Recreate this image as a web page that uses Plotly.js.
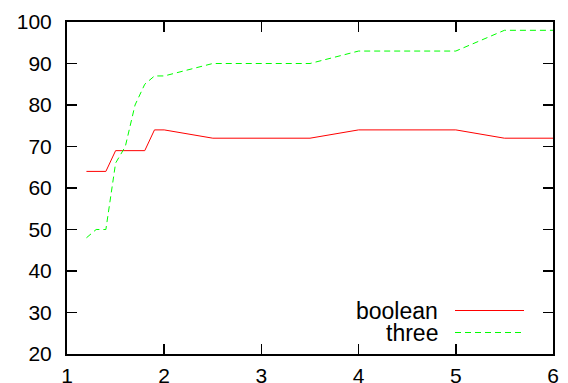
<!DOCTYPE html>
<html>
<head>
<meta charset="utf-8">
<script src="https://cdn.plot.ly/plotly-3.0.1.min.js"></script>
<style>html,body{margin:0;padding:0;background:#fff;}#chart{width:568px;height:383px;}</style>
</head>
<body>
<div id="chart"></div>
<script>
const xBoolean = [1.2, 1.4, 1.5, 1.8, 1.9, 2.0, 2.5, 3.5, 4.0, 5.0, 5.5, 6.0];
const yBoolean = [64, 64, 69, 69, 74, 74, 72, 72, 74, 74, 72, 72];
const xThree = [1.2, 1.3, 1.4, 1.5, 1.6, 1.7, 1.8, 1.9, 2.0, 2.5, 3.5, 4.0, 5.0, 5.5, 6.0];
const yThree = [48, 50, 50, 66, 70, 80, 85, 87, 87, 90, 90, 93, 93, 98, 98];
const seriesNames = ['boolean', 'three'];
const xTicks = [1, 2, 3, 4, 5, 6];
const yTicks = [20, 30, 40, 50, 60, 70, 80, 90, 100];

const FONT = 'Liberation Sans, Arial, Helvetica, sans-serif';
const RED = 'rgb(255,0,0)';
const GREEN = 'rgb(0,255,0)';
const DASH = '6px,4px';

const traces = [
  {x: xBoolean, y: yBoolean, mode: 'lines', name: seriesNames[0], line: {color: RED, width: 1}, showlegend: false},
  {x: xThree, y: yThree, mode: 'lines', name: seriesNames[1], line: {color: GREEN, width: 1, dash: DASH}, showlegend: false}
];

const axisCommon = {
  showline: true, linecolor: '#000', linewidth: 2, mirror: 'ticks',
  ticks: 'inside', ticklen: 10, tickwidth: 1.5, tickcolor: '#000',
  showgrid: false, zeroline: false,
  tickfont: {family: FONT, size: 21, color: '#000'}
};

const L = 67, R = 553, T = 22, B = 354;
const px = v => (v - L) / (R - L);
const py = v => (B - v) / (B - T);

const layout = {
  width: 568, height: 383,
  margin: {l: L, r: 568 - R, t: T, b: 383 - B, pad: 0},
  paper_bgcolor: '#fff', plot_bgcolor: '#fff',
  xaxis: Object.assign({}, axisCommon, {range: [1, 6], tickvals: xTicks, ticktext: xTicks.map(String), ticklabelstandoff: 2}),
  yaxis: Object.assign({}, axisCommon, {range: [20, 100], tickvals: yTicks, ticktext: yTicks.map(String), ticklabelstandoff: 9}),
  annotations: [
    {xref: 'paper', yref: 'paper', x: px(440), y: py(311), xanchor: 'right', yanchor: 'middle', text: seriesNames[0], showarrow: false, font: {family: FONT, size: 23, color: '#000'}},
    {xref: 'paper', yref: 'paper', x: px(440), y: py(332.5), xanchor: 'right', yanchor: 'middle', text: seriesNames[1], showarrow: false, font: {family: FONT, size: 23, color: '#000'}}
  ],
  shapes: [
    {type: 'line', xref: 'paper', yref: 'paper', x0: px(455), x1: px(524), y0: py(310.5), y1: py(310.5), line: {color: RED, width: 1}},
    {type: 'line', xref: 'paper', yref: 'paper', x0: px(455), x1: px(524), y0: py(332.5), y1: py(332.5), line: {color: GREEN, width: 1, dash: DASH}}
  ]
};

Plotly.newPlot('chart', traces, layout, {staticPlot: true, displayModeBar: false});
</script>
</body>
</html>
